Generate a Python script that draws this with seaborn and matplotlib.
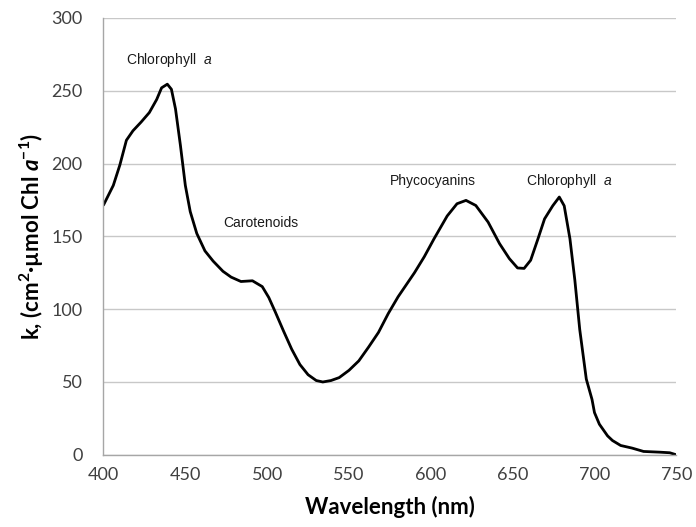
import matplotlib
matplotlib.use("Agg")
import matplotlib.pyplot as plt
import seaborn as sns
import pandas as pd

wavelength = [400, 406, 410, 414, 418, 423, 428, 432.5, 435.5, 439, 441.5, 444, 447, 450,
              453, 457, 462, 467, 473, 478, 484, 491, 497, 501, 505, 510, 515, 520,
              525, 530, 534, 539, 544, 550, 556, 562, 568, 574, 580, 590, 596, 602,
              610, 616, 621.5, 627.5, 635, 642, 648, 653, 657, 661, 665.5, 669.5,
              674.5, 678.5, 681.5, 685, 688, 691, 695, 698.5, 700, 703, 708, 711,
              716, 723, 730, 740, 746, 750]
k_values = [171.5, 185, 199, 216, 222.5, 228.5, 235, 244, 252, 254.5, 251, 237.5, 212.5, 185,
            167, 152, 140, 133, 126, 122, 119, 119.5, 115.5, 108, 98, 85, 72.5, 62,
            55, 51, 50, 51, 53, 58, 64.5, 74, 84, 97, 108.5, 125, 136, 148.4,
            164, 172.4, 174.7, 171.2, 159.8, 145, 134.7, 128.3, 128, 133.6, 148.4, 162,
            171, 177, 171, 148.4, 120, 86, 52, 38, 29, 21, 13, 9.8,
            6.4, 4.6, 2.3, 1.8, 1.4, 0]

x_ticks = [400, 450, 500, 550, 600, 650, 700, 750]
y_ticks = [0, 50, 100, 150, 200, 250, 300]

annotations = [
    ("Chlorophyll  $\\mathit{a}$", 414, 271),
    ("Carotenoids", 473, 159),
    ("Phycocyanins", 575, 188),
    ("Chlorophyll  $\\mathit{a}$", 658, 188),
]

sns.set_theme(style="white")
plt.rcParams["font.family"] = ["Lato", "DejaVu Sans"]
plt.rcParams["mathtext.fontset"] = "custom"
plt.rcParams["mathtext.rm"] = "Liberation Sans"
plt.rcParams["mathtext.it"] = "Liberation Sans:italic"
plt.rcParams["mathtext.bf"] = "Lato:bold"
plt.rcParams["mathtext.bfit"] = "Lato:bold:italic"

df = pd.DataFrame({"wl": wavelength, "k": k_values})

fig = plt.figure(figsize=(6.96, 5.27), dpi=100)
ax = fig.add_axes([0.1487, 0.137, 0.823, 0.829])

sns.lineplot(data=df, x="wl", y="k", ax=ax, color="black", linewidth=2.0)

ax.set_xlim(400, 750)
ax.set_ylim(0, 300)
ax.set_xticks(x_ticks)
ax.set_yticks(y_ticks)
ax.grid(axis="y", color="#c8c8c8", linewidth=1.0)
ax.grid(axis="x", visible=False)
ax.set_axisbelow(True)

for s in ["top", "right"]:
    ax.spines[s].set_visible(False)
for s in ["left", "bottom"]:
    ax.spines[s].set_color("#a6a6a6")
    ax.spines[s].set_linewidth(1.0)

ax.tick_params(axis="x", direction="inout", length=12, width=1, color="#a6a6a6",
               labelsize=13, labelcolor="#404040", pad=3)
ax.tick_params(axis="y", direction="out", length=6, width=1, color="#a6a6a6",
               labelsize=13, labelcolor="#404040", pad=9)

ax.set_xlabel("Wavelength (nm)", fontsize=16, fontweight="bold", color="black", labelpad=9)
ax.set_ylabel("k, (cm$^{\\mathbf{2}}$·µmol Chl $\\mathbfit{a}$$^{\\mathbf{-1}}$)",
              fontsize=16, fontweight="bold", color="black", labelpad=4)

for txt, xv, yv in annotations:
    ax.text(xv, yv, txt, fontsize=10, family=["Liberation Sans"], color="#1a1a1a",
            ha="left", va="center")

fig.savefig("out.png", dpi=100)
